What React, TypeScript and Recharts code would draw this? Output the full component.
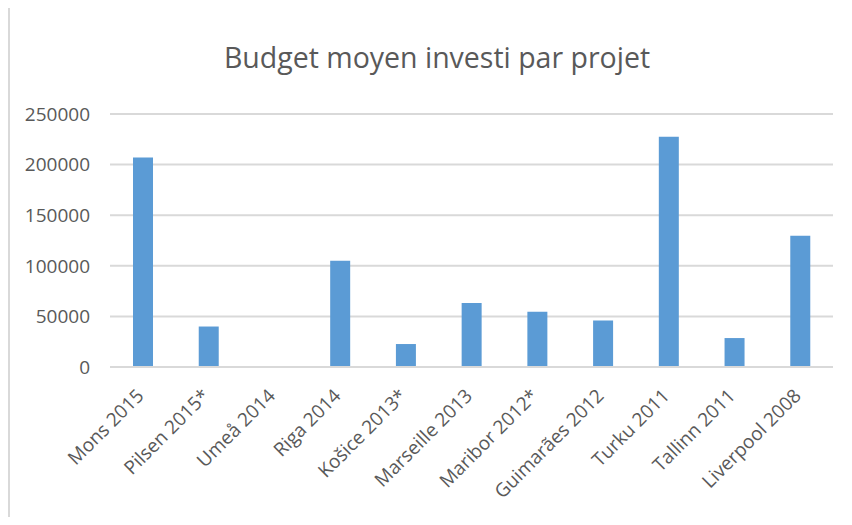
import { BarChart, Bar, XAxis, YAxis, CartesianGrid } from "recharts";

const cities = [
  "Mons 2015",
  "Pilsen 2015*",
  "Umeå 2014",
  "Riga 2014",
  "Košice 2013*",
  "Marseille 2013",
  "Maribor 2012*",
  "Guimarães 2012",
  "Turku 2011",
  "Tallinn 2011",
  "Liverpool 2008",
];
const budgets = [207000, 40000, 0, 105000, 22700, 63200, 54600, 46000, 227600, 28600, 129600];
const yTicks = [0, 50000, 100000, 150000, 200000, 250000];

const chartData = cities.map((city, i) => ({ city, budget: budgets[i] }));

const FONT = "'Open Sans', sans-serif";
const GREY = "#595959";

// rotated category label, top-right corner sitting under the bar
const CityTick = (props: any) => {
  const { x, y, payload } = props;
  return (
    <text
      transform={`translate(${x + 2},${y + 30}) rotate(-45)`}
      textAnchor="end"
      fill={GREY}
      fontSize={19}
      fontFamily={FONT}
    >
      {payload.value}
    </text>
  );
};

export default function App() {
  return (
    <div style={{ position: "relative", width: 852, height: 525, margin: -8 }}>
      <div
        style={{
          position: "absolute",
          left: 8,
          top: 6,
          width: 844,
          height: 519,
          borderTop: "2px solid #d9d9d9",
          borderLeft: "2px solid #d9d9d9",
          boxSizing: "border-box",
        }}
      />
      <svg width={852} height={90} style={{ position: "absolute", left: 0, top: 0 }}>
        <text x={437} y={68} textAnchor="middle" fill={GREY} fontSize={28.5} fontFamily={FONT}>
          Budget moyen investi par projet
        </text>
      </svg>
      <div style={{ position: "absolute", left: 8, top: 8 }}>
        <BarChart
          width={844}
          height={517}
          data={chartData}
          margin={{ top: 106, right: 19, left: 0, bottom: 0 }}
          barCategoryGap="35%"
        >
          <CartesianGrid vertical={false} stroke="#d9d9d9" strokeWidth={2} />
          <XAxis
            dataKey="city"
            interval={0}
            height={158}
            axisLine={{ stroke: "#d9d9d9", strokeWidth: 2 }}
            tickLine={false}
            tickSize={0}
            tickMargin={0}
            tick={<CityTick />}
          />
          <YAxis
            width={102}
            domain={[0, 250000]}
            ticks={yTicks}
            axisLine={false}
            tickLine={false}
            tickSize={0}
            tickMargin={20}
            tick={{ fill: GREY, fontSize: 19, fontFamily: FONT }}
          />
          <Bar dataKey="budget" fill="#5b9bd5" isAnimationActive={false} />
        </BarChart>
      </div>
    </div>
  );
}
